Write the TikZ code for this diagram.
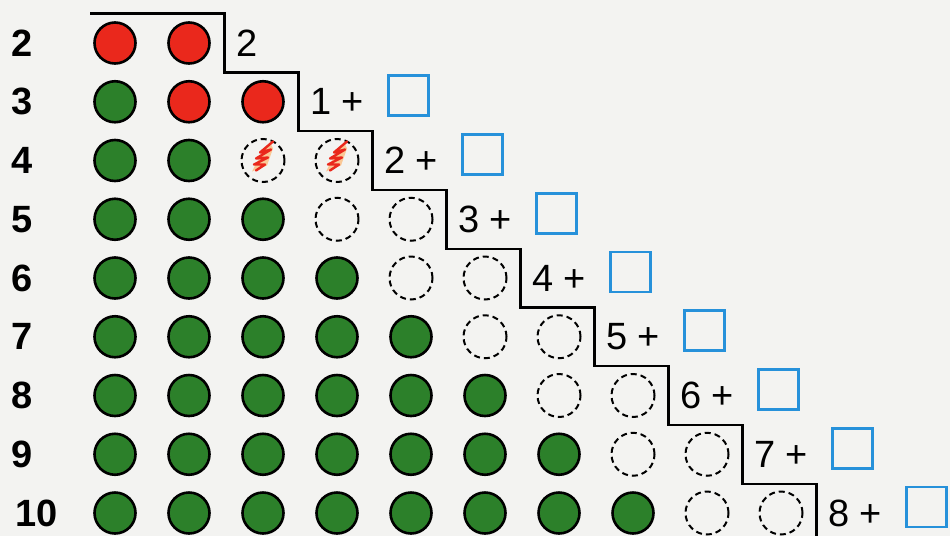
\documentclass[tikz,border=0pt]{standalone}
\usepackage{fontspec}
\setmainfont{Liberation Sans}
\definecolor{dotred}{RGB}{234,40,28}
\definecolor{dotgreen}{RGB}{44,128,42}
\definecolor{boxblue}{RGB}{38,145,218}
\definecolor{paper}{RGB}{243,243,241}
\definecolor{tint}{RGB}{250,200,150}
\tikzset{
  dot/.style={circle, draw=black, line width=2.6pt,
    minimum size=41pt, inner sep=0pt},
  reddot/.style={dot, fill=dotred},
  greendot/.style={dot, fill=dotgreen},
  emptydot/.style={circle, draw=black, line width=2pt,
    dash pattern=on 6pt off 4pt, minimum size=43pt, inner sep=0pt},
  rowlabel/.style={font=\fontsize{38}{40}\selectfont\bfseries, inner sep=0pt},
  sumtext/.style={font=\fontsize{38}{40}\selectfont, inner sep=0pt, anchor=base west},
  answerbox/.style={rectangle, draw=boxblue, line width=2.8pt,
    minimum size=40pt, inner sep=0pt},
  stair/.style={line width=2.3pt, line join=miter},
  scribble/.style={draw=dotred, line width=2.4pt, line join=round, line cap=round}
}

\begin{document}
\begin{tikzpicture}[x=1pt, y=-1pt]
\fill[paper] (0,0) rectangle (950,536);
\useasboundingbox (0,0) rectangle (950,536);

% Row numbers
\foreach \r in {2,...,9}
  \node[rowlabel] (lab\r) at (22, {43+58.75*(\r-2)}) {\r};
\node[rowlabel] (lab10) at (37, 513) {10};

% Rows 2 and 3
\node[reddot]   (d2-1) at (115, 43) {};
\node[reddot]   (d2-2) at (189, 43) {};
\node[greendot] (d3-1) at (115, 101.75) {};
\node[reddot]   (d3-2) at (189, 101.75) {};
\node[reddot]   (d3-3) at (263, 101.75) {};

% Rows 4 to 10: green dots, then two empty ones
\foreach \r [evaluate=\r as \ry using 43+58.75*(\r-2),
             evaluate=\r as \ng using int(\r-2)] in {4,...,10} {
  \foreach \c in {1,...,\ng}
    \node[greendot] (d\r-\c) at ({115+74*(\c-1)}, \ry) {};
  \foreach \c [evaluate=\c as \k using int(\r-2+\c)] in {1,2}
    \node[emptydot] (d\r-\k) at ({115+74*(\k-1)}, \ry) {};
}

% Crossed-out dots in row 4
\foreach \d in {d4-3, d4-4} {
  \fill[tint] ([shift={(-11,11)}]\d.center) -- ++(4,-8) -- ++(14,-21)
    -- ++(3,6) -- ++(-6,17) -- cycle;
  \draw[scribble] ([shift={(-7,10)}]\d.center) -- ++(9,-6) -- ++(-11,0)
    -- ++(14,-7) -- ++(-12,1) -- ++(15,-9) -- ++(-11,3) -- ++(13,-11);
}

% Staircase
\coordinate (start) at (90, 13.5);
\coordinate (finish) at (816.5, 536);
\draw[stair] (start)
  \foreach \r in {2,...,9} { -| ({76.5+74*\r}, {72.4+58.75*(\r-2)}) }
  -| (finish);

% Sums and answer boxes
\node[sumtext] (sum2) at (236, 56) {2};
\foreach \r [evaluate=\r as \ry using 43+58.75*(\r-2),
             evaluate=\r as \lx using 76.5+74*\r,
             evaluate=\r as \n using int(\r-2)] in {3,...,10} {
  \node[sumtext] (sum\r) at (\lx+11.5, \ry+13) {\n\ +};
  \node[answerbox] (box\r) at (\lx+110, \ry-6) {};
}

\end{tikzpicture}
\end{document}
